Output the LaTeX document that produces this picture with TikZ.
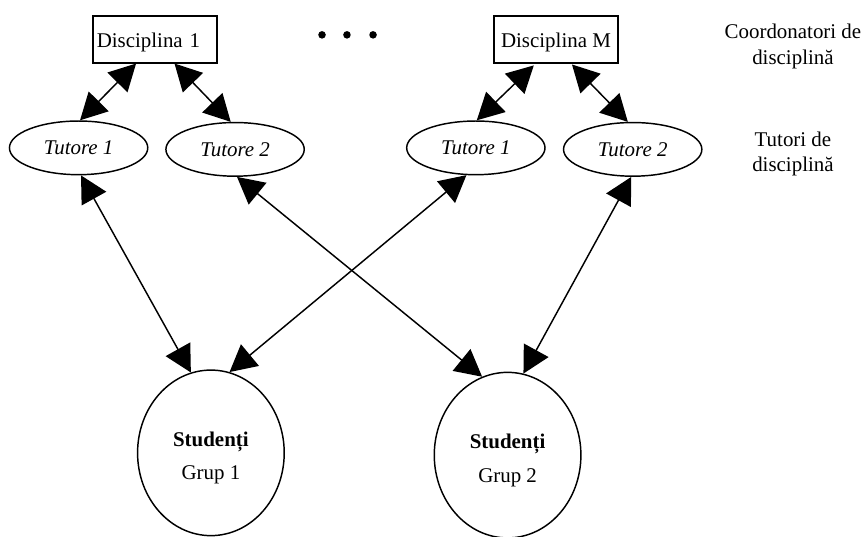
\documentclass[tikz,border=0pt]{standalone}
\usepackage{fontspec}
\setmainfont{Liberation Serif}
\usetikzlibrary{shapes.geometric,arrows.meta}
\newcommand{\picfont}{\fontsize{15.75}{19}\selectfont}
\newcommand{\grupfont}{\fontsize{15.75}{25}\selectfont}
\tikzset{
  disc/.style={rectangle,draw=black,line width=1.1pt,minimum height=1.24cm,inner xsep=3pt,inner ysep=0pt,text height=15pt,text depth=3.4pt},
  tutor/.style={ellipse,draw=black,line width=1.1pt,minimum width=3.66cm,minimum height=1.42cm,inner sep=0pt,font=\picfont\itshape},
  group/.style={ellipse,draw=black,line width=1.1pt,minimum width=3.88cm,minimum height=4.38cm,inner sep=0pt,align=center,font=\grupfont},
  note/.style={align=center,inner sep=0pt},
  dot/.style={circle,fill=black,minimum size=0.2cm,inner sep=0pt},
  link/.style={line width=1.1pt,{Triangle[length=20pt,width=21pt]}-{Triangle[length=20pt,width=21pt]}}
}
\begin{document}
\begin{tikzpicture}[font=\picfont]
\useasboundingbox (0,0) rectangle (22.913,14.182);

\node[disc,text width=3.08cm,align=left] (disc1) at (4.10,13.14) {Disciplina 1};
\node[disc,minimum width=3.28cm] (discM) at (14.71,13.14) {Disciplina M};

\node[dot] (dot1) at (8.52,13.26) {};
\node[dot] (dot2) at (9.18,13.26) {};
\node[dot] (dot3) at (9.87,13.26) {};

\node[tutor] (tut11) at (2.08,10.27) {Tutore 1};
\node[tutor] (tut12) at (6.22,10.23) {Tutore 2};
\node[tutor] (tutM1) at (12.59,10.27) {Tutore 1};
\node[tutor] (tutM2) at (16.74,10.23) {Tutore 2};

\node[group,text height=44pt] (grup1) at (5.58,2.20) {\textbf{Studenți}\\Grup 1};
\node[group,text height=44pt] (grup2) at (13.43,2.14) {\textbf{Studenți}\\Grup 2};

\node[note] (coord) at (20.98,12.95) {Coordonatori de\\disciplină};
\node[note] (tutori) at (20.98,10.11) {Tutori de\\disciplină};

\draw[link] (disc1.232) -- (tut11.87);
\draw[link] (disc1.309) -- (tut12.99);
\draw[link,shorten <=2pt] (discM.230) -- (tutM1.88);
\draw[link,shorten <=1pt] (discM.302) -- (tutM2.100);

\draw[link] (tut11.275) -- (grup1.104);
\draw[link] (tut12.274) -- (grup2.108);
\draw[link] (tutM1.251) -- (grup1.77);
\draw[link] (tutM2.267) -- (grup2.79);
\end{tikzpicture}
\end{document}
